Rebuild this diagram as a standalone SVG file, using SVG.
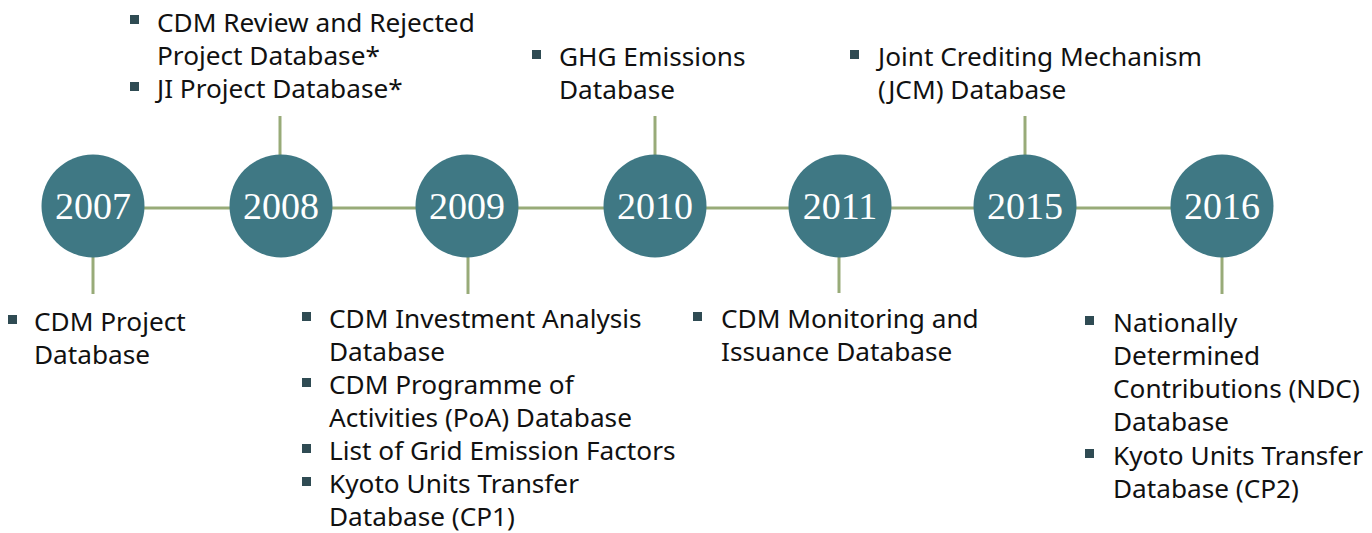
<svg xmlns="http://www.w3.org/2000/svg" width="1372" height="533" viewBox="0 0 1372 533">
<style>
.c{fill:#3F7884}
.y{font-family:"Liberation Serif","Times New Roman",serif;font-size:38px;fill:#ffffff;text-anchor:middle}
.t{font-family:"Noto Sans","Open Sans",sans-serif;font-size:26.2px;fill:#111111}
.b{fill:#2F4B53}
.l{stroke:#98AB78;stroke-width:3;fill:none}
</style>
<rect width="1372" height="533" fill="#ffffff"/>
<g id="connectors">
<line class="l" x1="93" y1="208" x2="1222" y2="208"/>
<line class="l" x1="93" y1="256" x2="93" y2="294"/>
<line class="l" x1="280" y1="116" x2="280" y2="156"/>
<line class="l" x1="468" y1="256" x2="468" y2="294"/>
<line class="l" x1="655" y1="116" x2="655" y2="156"/>
<line class="l" x1="839" y1="256" x2="839" y2="293"/>
<line class="l" x1="1025" y1="116" x2="1025" y2="156"/>
<line class="l" x1="1222" y1="256" x2="1222" y2="294"/>
</g>
<g id="y2007"><circle class="c" cx="93" cy="206" r="51.5"/><text class="y" x="93" y="219">2007</text></g>
<g id="y2008"><circle class="c" cx="281" cy="206" r="51.5"/><text class="y" x="281" y="219">2008</text></g>
<g id="y2009"><circle class="c" cx="467" cy="206" r="51.5"/><text class="y" x="467" y="219">2009</text></g>
<g id="y2010"><circle class="c" cx="655" cy="206" r="51.5"/><text class="y" x="655" y="219">2010</text></g>
<g id="y2011"><circle class="c" cx="840" cy="206" r="51.5"/><text class="y" x="840" y="219">2011</text></g>
<g id="y2015"><circle class="c" cx="1025" cy="206" r="51.5"/><text class="y" x="1025" y="219">2015</text></g>
<g id="y2016"><circle class="c" cx="1222" cy="206" r="51.5"/><text class="y" x="1222" y="219">2016</text></g>
<g id="n2007">
<rect class="b" x="8" y="315" width="9" height="9"/>
<text class="t" x="34" y="331">CDM Project</text>
<text class="t" x="34" y="364">Database</text>
</g>
<g id="n2008">
<rect class="b" x="130" y="15" width="9" height="9"/>
<text class="t" x="157" y="32">CDM Review and Rejected</text>
<text class="t" x="157" y="65">Project Database*</text>
<rect class="b" x="130" y="82" width="9" height="9"/>
<text class="t" x="157" y="98">JI Project Database*</text>
</g>
<g id="n2009">
<rect class="b" x="302" y="312" width="9" height="9"/>
<text class="t" x="329" y="328">CDM Investment Analysis</text>
<text class="t" x="329" y="361">Database</text>
<rect class="b" x="302" y="378" width="9" height="9"/>
<text class="t" x="329" y="394">CDM Programme of</text>
<text class="t" x="329" y="427">Activities (PoA) Database</text>
<rect class="b" x="302" y="444" width="9" height="9"/>
<text class="t" x="329" y="460">List of Grid Emission Factors</text>
<rect class="b" x="302" y="477" width="9" height="9"/>
<text class="t" x="329" y="493">Kyoto Units Transfer</text>
<text class="t" x="329" y="526">Database (CP1)</text>
</g>
<g id="n2010">
<rect class="b" x="532" y="50" width="9" height="9"/>
<text class="t" x="559" y="66">GHG Emissions</text>
<text class="t" x="559" y="99">Database</text>
</g>
<g id="n2011">
<rect class="b" x="693" y="312" width="9" height="9"/>
<text class="t" x="721" y="328">CDM Monitoring and</text>
<text class="t" x="721" y="361">Issuance Database</text>
</g>
<g id="n2015">
<rect class="b" x="850" y="50" width="9" height="9"/>
<text class="t" x="878" y="66">Joint Crediting Mechanism</text>
<text class="t" x="878" y="99">(JCM) Database</text>
</g>
<g id="n2016">
<rect class="b" x="1085" y="316" width="9" height="9"/>
<text class="t" x="1113" y="332">Nationally</text>
<text class="t" x="1113" y="365">Determined</text>
<text class="t" x="1113" y="398">Contributions (NDC)</text>
<text class="t" x="1113" y="431">Database</text>
<rect class="b" x="1085" y="449" width="9" height="9"/>
<text class="t" x="1113" y="465">Kyoto Units Transfer</text>
<text class="t" x="1113" y="498">Database (CP2)</text>
</g>
</svg>
